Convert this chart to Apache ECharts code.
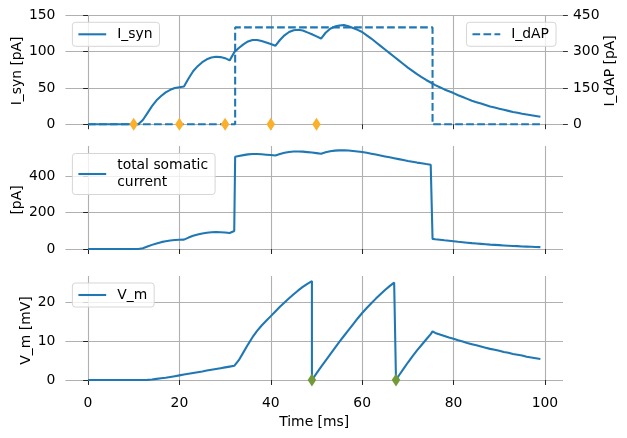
<!DOCTYPE html>
<html><head><meta charset="utf-8">
<script src="https://cdn.jsdelivr.net/npm/echarts@6/dist/echarts.min.js"></script>
<style>html,body{margin:0;padding:0;background:#fff}#c{width:627px;height:438px}</style>
</head><body><div id="c"></div>
<script>
// ---- data ----
const synTime = [0,1,2,3,4,5,6,7,8,9,10,11,12,13,14,15,16,17,18,19,20,21,22,23,24,25,26,27,28,29,30,31,32,33,34,35,36,37,38,39,40,41,42,43,44,45,46,47,48,49,50,51,52,53,54,55,56,57,58,59,60,61,62,63,64,65,66,67,68,69,70,71,72,73,74,75,76,77,78,79,80,81,82,83,84,85,86,87,88,89,90,91,92,93,94,95,96,97,98,99];
const iSyn = [0,0,0,0,0,0,0,0,0,0,0,0,6,15.5,25,33,39,44,47.5,50,51,52,63,73,80,85.5,89.5,92,93,92.5,91,88,99,105,110,114,116,116,114.5,112.5,110.5,108,116,122.5,127,129.5,130,129,126.5,124,121,118,126,131.5,134.5,136,136.5,135,132.5,130,127,122.5,118,113,108,103,98,93,88,83,78,73.5,69,65,61,57.5,54,51,48,45.5,43,40,37.5,35,32.5,30.5,28.5,26.5,24.5,23,21.5,20,18.5,17,16,14.5,13.5,12.5,11.5,10.5];
const dapTime = [0,32.2,32.2,75.4,75.4,99];
const iDap = [0,0,400,400,0,0];
const totalTime = [0,1,2,3,4,5,6,7,8,9,10,11,12,13,14,15,16,17,18,19,20,21,22,23,24,25,26,27,28,29,30,31,32,32.2,32.2,33,34,35,36,37,38,39,40,41,42,43,44,45,46,47,48,49,50,51,52,53,54,55,56,57,58,59,60,61,62,63,64,65,66,67,68,69,70,71,72,73,74,75,75.4,75.4,76,77,78,79,80,81,82,83,84,85,86,87,88,89,90,91,92,93,94,95,96,97,98,99];
const totalCurrent = [0,0,0,0,0,0,0,0,0,0,0,0,5,14,23,31,38,43,47,49.5,51,52,63,73,80,85.5,89.5,92,93,92.5,91,88,99,101,506,510,515,519,521,521,519.5,517.5,515.5,513,521,527.5,532,534.5,535,534,531.5,529,526,523,531,536.5,539.5,541,541.5,540,537.5,535,532,527.5,523,518,513,508,503,498,493,488,483,478.5,474,470,466,462.5,461,56,54,51,48,45.5,43,40,37.5,35,32.5,30.5,28.5,26.5,24.5,23,21.5,20,18.5,17,16,14.5,13.5,12.5,11.5,10.5];
const vmTime = [0,1,2,3,4,5,6,7,8,9,10,11,12,13,14,15,16,17,18,19,20,21,22,23,24,25,26,27,28,29,30,31,32,32.2,33,34,35,36,37,38,39,40,41,42,43,44,45,46,47,48,49,49,50,51,52,53,54,55,56,57,58,59,60,61,62,63,64,65,66,67,67.4,67.4,68,69,70,71,72,73,74,75,75.4,76,77,78,79,80,81,82,83,84,85,86,87,88,89,90,91,92,93,94,95,96,97,98,99];
const vm = [0,0,0,0,0,0,0,0,0,0,0,0,0,0.05,0.15,0.3,0.45,0.6,0.8,1.0,1.2,1.4,1.6,1.8,2.0,2.2,2.45,2.65,2.85,3.05,3.25,3.45,3.65,3.7,5.1,7.1,9.1,11.0,12.6,14.0,15.2,16.4,17.6,18.8,19.9,21.0,22.0,23.0,23.9,24.7,25.4,0,1.7,3.4,5.0,6.6,8.2,9.8,11.3,12.8,14.3,15.8,17.2,18.5,19.7,20.9,22.0,23.1,24.1,25.0,25.4,0,1.1,2.8,4.5,6.1,7.6,9.0,10.4,11.8,12.5,12.1,11.7,11.3,10.9,10.6,10.2,9.9,9.5,9.2,8.9,8.6,8.3,8.0,7.8,7.5,7.2,7.0,6.7,6.5,6.3,6.0,5.8,5.6,5.4];
const inputSpikeTimes = [10,20,30,40,50];
const outputSpikeTimes = [49,67.4];
const xTicks = [0,20,40,60,80,100];
const synTicks = [0,50,100,150];
const dapTicks = [0,150,300,450];
const totalTicks = [0,200,400];
const vmTicks = [0,10,20];

// ---- chart ----
const FONT = 'DejaVu Sans';
const FS = 13.9;
const BLUE = '#1f77b4';
const SOLID_ICON = 'path://M0,0h27.8v2.08h-27.8z';
const DASH_ICON = 'path://M0,0h7.7v2.08h-7.7z M11,0h7.7v2.08h-7.7z M22,0h5.8v2.08h-5.8z';
const zip = (a, b) => a.map((v, i) => [v, b[i]]);

function xAxis(gi, showLabels) {
  return {
    type: 'value', gridIndex: gi, min: -4.95, max: 103.95,
    axisLine: {show: false},
    axisTick: {show: true, length: 4.9, customValues: xTicks, lineStyle: {color: '#000', width: 0.8}},
    axisLabel: {show: showLabels, customValues: xTicks, margin: 11.5, color: '#000', fontFamily: FONT, fontSize: FS},
    splitLine: {show: true, lineStyle: {color: '#b0b0b0', width: 1.1}},
    name: showLabels ? 'Time [ms]' : '', nameLocation: 'middle', nameGap: 30, nameMoveOverlap: false,
    nameTextStyle: {color: '#000', fontFamily: FONT, fontSize: FS}
  };
}
function yAxis(gi, min, max, ticks, name, gap, pos, grid) {
  return {
    type: 'value', gridIndex: gi, min: min, max: max, position: pos,
    axisLine: {show: false},
    axisTick: {show: true, length: 4.9, customValues: ticks, lineStyle: {color: '#000', width: 0.8}},
    axisLabel: {customValues: ticks, margin: 10, color: '#000', fontFamily: FONT, fontSize: FS},
    splitLine: {show: grid, lineStyle: {color: '#b0b0b0', width: 1.1}},
    name: name, nameLocation: 'middle', nameGap: gap, nameMoveOverlap: false,
    nameTextStyle: {color: '#000', fontFamily: FONT, fontSize: FS}
  };
}
function legend(name, icon, pos, fmt) {
  return Object.assign({
    data: [{name: name, icon: icon}], orient: 'vertical',
    itemWidth: 27.8, itemHeight: 2.08, itemGap: 4,
    padding: [3.5, 7, 3.5, 6],
    backgroundColor: 'rgba(255,255,255,0.8)', borderColor: '#d6d6d6', borderWidth: 1, borderRadius: 3,
    textStyle: {color: '#000', fontFamily: FONT, fontSize: FS, padding: [0, 0, 0, 6], lineHeight: 17},
    formatter: fmt || '{name}'
  }, pos);
}

const chart = echarts.init(document.getElementById('c'), null, {renderer: 'canvas'});
chart.setOption({
  animation: false,
  backgroundColor: '#fff',
  textStyle: {fontFamily: FONT},
  grid: [
    {left: 65.4, right: 64, top: 15.3, height: 111.2, containLabel: false, outerBoundsMode: 'none'},
    {left: 65.4, right: 64, top: 146, height: 108, containLabel: false, outerBoundsMode: 'none'},
    {left: 65.4, right: 64, top: 276, height: 109, containLabel: false, outerBoundsMode: 'none'}
  ],
  xAxis: [xAxis(0, false), xAxis(1, false), xAxis(2, true)],
  yAxis: [
    yAxis(0, -3, 150, synTicks, 'I_syn [pA]', 41, 'left', true),
    yAxis(0, -9, 450, dapTicks, 'I_dAP [pA]', 40, 'right', false),
    yAxis(1, -27, 565, totalTicks, '[pA]', 41, 'left', true),
    yAxis(2, -1.27, 26.7, vmTicks, 'V_m [mV]', 32, 'left', true)
  ],
  legend: [
    legend('I_syn', SOLID_ICON, {left: 72.4, top: 22.3}),
    legend('I_dAP', DASH_ICON, {right: 71, top: 22.3}),
    legend('total somatic current', SOLID_ICON, {left: 72.4, top: 153.5}, 'total somatic\ncurrent'),
    legend('V_m', SOLID_ICON, {left: 72.4, top: 283})
  ],
  series: [
    {name: 'I_syn', type: 'line', xAxisIndex: 0, yAxisIndex: 0, data: zip(synTime, iSyn), symbol: 'none',
     lineStyle: {color: BLUE, width: 2.08}, itemStyle: {color: BLUE}},
    {name: 'I_dAP', type: 'line', xAxisIndex: 0, yAxisIndex: 1, data: zip(dapTime, iDap), symbol: 'none',
     lineStyle: {color: BLUE, width: 2.08, type: [7.7, 3.3]}, itemStyle: {color: BLUE}},
    {name: 'in_spikes', type: 'scatter', xAxisIndex: 0, yAxisIndex: 0, data: inputSpikeTimes.map(t => [t, 0]),
     symbol: 'diamond', symbolSize: [8.5, 13], clip: false, itemStyle: {color: '#fbb02c', opacity: 1}, z: 5},
    {name: 'total somatic current', type: 'line', xAxisIndex: 1, yAxisIndex: 2, data: zip(totalTime, totalCurrent), symbol: 'none',
     lineStyle: {color: BLUE, width: 2.08}, itemStyle: {color: BLUE}},
    {name: 'V_m', type: 'line', xAxisIndex: 2, yAxisIndex: 3, data: zip(vmTime, vm), symbol: 'none',
     lineStyle: {color: BLUE, width: 2.08}, itemStyle: {color: BLUE}},
    {name: 'out_spikes', type: 'scatter', xAxisIndex: 2, yAxisIndex: 3, data: outputSpikeTimes.map(t => [t, 0]),
     symbol: 'diamond', symbolSize: [8.5, 13], clip: false, itemStyle: {color: '#72993a', opacity: 1}, z: 5}
  ]
});
</script></body></html>
